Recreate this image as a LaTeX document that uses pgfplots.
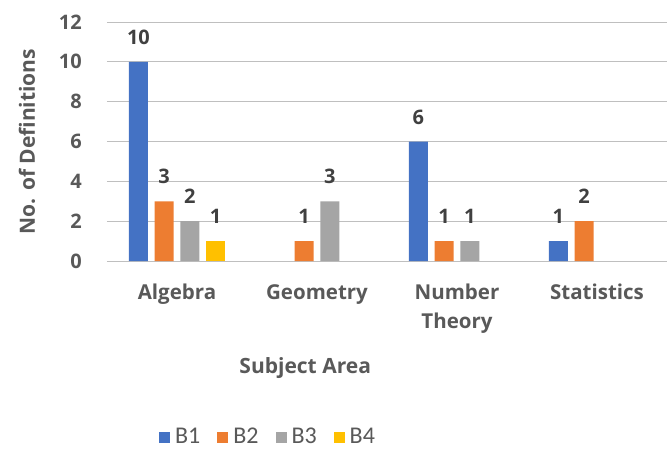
\documentclass[border=0pt]{standalone}
\usepackage{fontspec}
\setmainfont{Open Sans}
\newfontfamily\legfont{Carlito}
\usepackage{pgfplots}
\pgfplotsset{compat=1.18}

\definecolor{cB1}{HTML}{4472C4}
\definecolor{cB2}{HTML}{ED7D31}
\definecolor{cB3}{HTML}{A5A5A5}
\definecolor{cB4}{HTML}{FFC000}
\definecolor{txt}{HTML}{595959}
\definecolor{lab}{HTML}{404040}
\definecolor{grid}{HTML}{D9D9D9}

\begin{document}
\begin{tikzpicture}
\useasboundingbox (-107pt,-191pt) rectangle (560pt,261pt);
\begin{axis}[
    at={(0,0)}, anchor=south west,
    scale only axis,
    width=560pt, height=239pt,
    ybar=6.7pt, bar width=19pt,
    xmin=-0.5, xmax=3.5,
    ymin=0, ymax=12,
    ytick={0,2,...,12},
    xtick={0,1,2,3},
    xticklabels={Algebra, Geometry, {Number\\Theory}, Statistics},
    xticklabel style={align=center, inner sep=0pt, font=\fontsize{20.5}{29}\selectfont\bfseries, text=txt},
    yticklabel style={inner sep=0pt, font=\fontsize{20}{24}\selectfont\bfseries, text=txt},
    /pgf/number format/assume math mode=true,
    major tick length=0pt,
    axis line style={draw=none},
    xmajorgrids=false,
    ymajorgrids, grid style={grid, line width=0.9pt},
    xticklabel shift=23pt,
    yticklabel shift=25pt,
    xlabel={Subject Area},
    ylabel={No. of Definitions},
    xlabel style={font=\fontsize{21}{24}\selectfont\bfseries, text=txt,
        at={(axis description cs:0.354,-0.448)}, anchor=center},
    ylabel style={font=\fontsize{21}{24}\selectfont\bfseries, text=txt,
        at={(axis description cs:-0.143,0.5)}, anchor=center},
    nodes near coords,
    every node near coord/.append style={font=\fontsize{20}{24}\selectfont\bfseries, text=lab, inner sep=0pt, anchor=south, yshift=17pt},
    legend style={at={(axis description cs:0.2875,-0.736)}, anchor=center,
        draw=none, legend columns=4, font=\fontsize{24}{28}\selectfont\legfont, text=txt,
        /tikz/every odd column/.append style={column sep=3pt},
        /tikz/every even column/.append style={column sep=15pt}},
    legend image code/.code={\fill[#1] (0pt,-6pt) rectangle (11pt,5pt);},
]
\addplot[fill=cB1, draw=none] coordinates {(0,10) (2,6) (3,1)};
\addplot[fill=cB2, draw=none] coordinates {(0,3) (1,1) (2,1) (3,2)};
\addplot[fill=cB3, draw=none] coordinates {(0,2) (1,3) (2,1)};
\addplot[fill=cB4, draw=none] coordinates {(0,1)};
\legend{B1, B2, B3, B4}
\end{axis}
\end{tikzpicture}
\end{document}
